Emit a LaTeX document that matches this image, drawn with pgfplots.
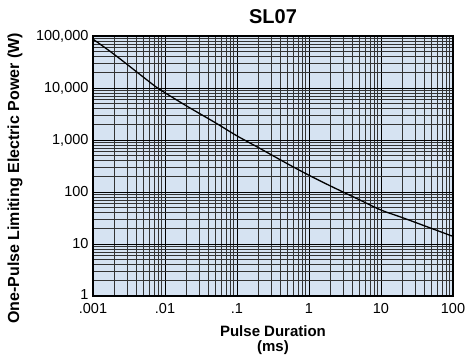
\documentclass[border=0pt]{standalone}
\usepackage{fontspec}
\setmainfont{Liberation Sans}
\usepackage{pgfplots}
\pgfplotsset{compat=1.18}
\definecolor{bgblue}{RGB}{214,227,242}
\begin{document}
\begin{tikzpicture}
\useasboundingbox (-93pt,-60pt) rectangle (373pt,296pt);
\begin{axis}[
  scale only axis,
  width=360pt, height=260pt,
  xmode=log, ymode=log,
  xmin=0.001, xmax=100, ymin=1, ymax=100000,
  axis background/.style={fill=bgblue},
  xtick={0.001,0.01,0.1,1,10,100},
  xticklabels={.001,.01,.1,1,10,100},
  ytick={1,10,100,1000,10000,100000},
  yticklabels={{\raisebox{3pt}{1}},10,100,{1,000},{10,000},{100,000}},
  minor xtick={0.002,0.003,0.004,0.005,0.006,0.007,0.008,0.009,
               0.02,0.03,0.04,0.05,0.06,0.07,0.08,0.09,
               0.2,0.3,0.4,0.5,0.6,0.7,0.8,0.9,
               2,3,4,5,6,7,8,9,20,30,40,50,60,70,80,90},
  minor ytick={2,3,4,5,6,7,8,9,20,30,40,50,60,70,80,90,
               200,300,400,500,600,700,800,900,
               2000,3000,4000,5000,6000,7000,8000,9000,
               20000,30000,40000,50000,60000,70000,80000,90000},
  grid=both,
  major grid style={black, line width=0.8pt},
  minor grid style={black!80, line width=0.6pt},
  major tick length=0pt, minor tick length=0pt,
  axis line style={black, line width=1.2pt},
  tick label style={font=\fontsize{14.5}{16}\selectfont},
  xticklabel style={yshift=-4pt},
  yticklabel style={xshift=-1pt},
  xlabel={Pulse Duration\\(ms)},
  xlabel style={at={(axis description cs:0.5,-0.112)}, anchor=north, inner sep=0pt, align=center,
    font=\fontsize{15}{15}\selectfont\bfseries},
  ylabel={One-Pulse Limiting Electric Power (W)},
  ylabel style={at={(axis description cs:-0.2167,0.452)}, anchor=center, inner sep=0pt,
    font=\fontsize{16}{17}\selectfont\bfseries},
  title={SL07},
  title style={at={(axis description cs:0.5,1.025)}, anchor=base, inner sep=0pt,
    font=\fontsize{20}{22}\selectfont\bfseries},
]
\addplot[black, line width=1.3pt, smooth] coordinates {
(0.001,87000) (0.002,43600) (0.005,16200) (0.0075,10500) (0.01,8100)
(0.02,4500) (0.05,2150) (0.1,1200) (0.2,710) (0.5,350) (1,210)
(2,130) (5,71) (10,45) (20,32) (50,20) (100,14)
};
\end{axis}
\end{tikzpicture}
\end{document}
